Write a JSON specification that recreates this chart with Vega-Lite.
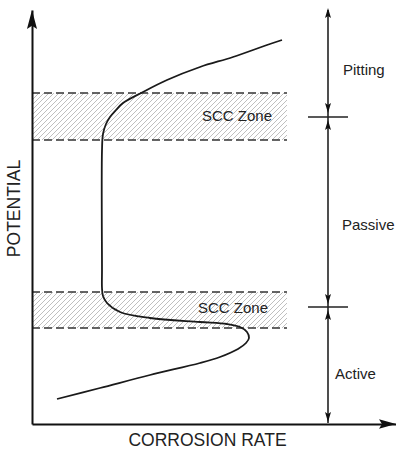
{
  "$schema": "https://vega.github.io/schema/vega-lite/v6.json",
  "width": 364,
  "height": 414,
  "autosize": {"type": "none"},
  "padding": {"left": 32, "top": 10, "right": 0, "bottom": 31},
  "background": "white",
  "config": {"view": {"stroke": null}, "font": "Liberation Sans"},
  "datasets": {
    "hatch": [
      {"x":-45,"y":284,"x2":2,"y2":331},{"x":-40,"y":284,"x2":7,"y2":331},{"x":-35,"y":284,"x2":12,"y2":331},{"x":-30,"y":284,"x2":17,"y2":331},
      {"x":-25,"y":284,"x2":22,"y2":331},{"x":-20,"y":284,"x2":27,"y2":331},{"x":-15,"y":284,"x2":32,"y2":331},{"x":-10,"y":284,"x2":37,"y2":331},
      {"x":-5,"y":284,"x2":42,"y2":331},{"x":0,"y":284,"x2":47,"y2":331},{"x":5,"y":284,"x2":52,"y2":331},{"x":10,"y":284,"x2":57,"y2":331},
      {"x":15,"y":284,"x2":62,"y2":331},{"x":20,"y":284,"x2":67,"y2":331},{"x":25,"y":284,"x2":72,"y2":331},{"x":30,"y":284,"x2":77,"y2":331},
      {"x":35,"y":284,"x2":82,"y2":331},{"x":40,"y":284,"x2":87,"y2":331},{"x":45,"y":284,"x2":92,"y2":331},{"x":50,"y":284,"x2":97,"y2":331},
      {"x":55,"y":284,"x2":102,"y2":331},{"x":60,"y":284,"x2":107,"y2":331},{"x":65,"y":284,"x2":112,"y2":331},{"x":70,"y":284,"x2":117,"y2":331},
      {"x":75,"y":284,"x2":122,"y2":331},{"x":80,"y":284,"x2":127,"y2":331},{"x":85,"y":284,"x2":132,"y2":331},{"x":90,"y":284,"x2":137,"y2":331},
      {"x":95,"y":284,"x2":142,"y2":331},{"x":100,"y":284,"x2":147,"y2":331},{"x":105,"y":284,"x2":152,"y2":331},{"x":110,"y":284,"x2":157,"y2":331},
      {"x":115,"y":284,"x2":162,"y2":331},{"x":120,"y":284,"x2":167,"y2":331},{"x":125,"y":284,"x2":172,"y2":331},{"x":130,"y":284,"x2":177,"y2":331},
      {"x":135,"y":284,"x2":182,"y2":331},{"x":140,"y":284,"x2":187,"y2":331},{"x":145,"y":284,"x2":192,"y2":331},{"x":150,"y":284,"x2":197,"y2":331},
      {"x":155,"y":284,"x2":202,"y2":331},{"x":160,"y":284,"x2":207,"y2":331},{"x":165,"y":284,"x2":212,"y2":331},{"x":170,"y":284,"x2":217,"y2":331},
      {"x":175,"y":284,"x2":222,"y2":331},{"x":180,"y":284,"x2":227,"y2":331},{"x":185,"y":284,"x2":232,"y2":331},{"x":190,"y":284,"x2":237,"y2":331},
      {"x":195,"y":284,"x2":242,"y2":331},{"x":200,"y":284,"x2":247,"y2":331},{"x":205,"y":284,"x2":252,"y2":331},{"x":210,"y":284,"x2":255,"y2":329},
      {"x":215,"y":284,"x2":255,"y2":324},{"x":220,"y":284,"x2":255,"y2":319},{"x":225,"y":284,"x2":255,"y2":314},{"x":230,"y":284,"x2":255,"y2":309},
      {"x":235,"y":284,"x2":255,"y2":304},{"x":240,"y":284,"x2":255,"y2":299},{"x":245,"y":284,"x2":255,"y2":294},{"x":250,"y":284,"x2":255,"y2":289},
      {"x":-35,"y":96,"x2":1,"y2":132},{"x":-30,"y":96,"x2":6,"y2":132},{"x":-25,"y":96,"x2":11,"y2":132},{"x":-20,"y":96,"x2":16,"y2":132},
      {"x":-15,"y":96,"x2":21,"y2":132},{"x":-10,"y":96,"x2":26,"y2":132},{"x":-5,"y":96,"x2":31,"y2":132},{"x":0,"y":96,"x2":36,"y2":132},
      {"x":5,"y":96,"x2":41,"y2":132},{"x":10,"y":96,"x2":46,"y2":132},{"x":15,"y":96,"x2":51,"y2":132},{"x":20,"y":96,"x2":56,"y2":132},
      {"x":25,"y":96,"x2":61,"y2":132},{"x":30,"y":96,"x2":66,"y2":132},{"x":35,"y":96,"x2":71,"y2":132},{"x":40,"y":96,"x2":76,"y2":132},
      {"x":45,"y":96,"x2":81,"y2":132},{"x":50,"y":96,"x2":86,"y2":132},{"x":55,"y":96,"x2":91,"y2":132},{"x":60,"y":96,"x2":96,"y2":132},
      {"x":65,"y":96,"x2":101,"y2":132},{"x":70,"y":96,"x2":106,"y2":132},{"x":75,"y":96,"x2":111,"y2":132},{"x":80,"y":96,"x2":116,"y2":132},
      {"x":85,"y":96,"x2":121,"y2":132},{"x":90,"y":96,"x2":126,"y2":132},{"x":95,"y":96,"x2":131,"y2":132},{"x":100,"y":96,"x2":136,"y2":132},
      {"x":105,"y":96,"x2":141,"y2":132},{"x":110,"y":96,"x2":146,"y2":132},{"x":115,"y":96,"x2":151,"y2":132},{"x":120,"y":96,"x2":156,"y2":132},
      {"x":125,"y":96,"x2":161,"y2":132},{"x":130,"y":96,"x2":166,"y2":132},{"x":135,"y":96,"x2":171,"y2":132},{"x":140,"y":96,"x2":176,"y2":132},
      {"x":145,"y":96,"x2":181,"y2":132},{"x":150,"y":96,"x2":186,"y2":132},{"x":155,"y":96,"x2":191,"y2":132},{"x":160,"y":96,"x2":196,"y2":132},
      {"x":165,"y":96,"x2":201,"y2":132},{"x":170,"y":96,"x2":206,"y2":132},{"x":175,"y":96,"x2":211,"y2":132},{"x":180,"y":96,"x2":216,"y2":132},
      {"x":185,"y":96,"x2":221,"y2":132},{"x":190,"y":96,"x2":226,"y2":132},{"x":195,"y":96,"x2":231,"y2":132},{"x":200,"y":96,"x2":236,"y2":132},
      {"x":205,"y":96,"x2":241,"y2":132},{"x":210,"y":96,"x2":246,"y2":132},{"x":215,"y":96,"x2":251,"y2":132},{"x":220,"y":96,"x2":255,"y2":131},
      {"x":225,"y":96,"x2":255,"y2":126},{"x":230,"y":96,"x2":255,"y2":121},{"x":235,"y":96,"x2":255,"y2":116},{"x":240,"y":96,"x2":255,"y2":111},
      {"x":245,"y":96,"x2":255,"y2":106},{"x":250,"y":96,"x2":255,"y2":101}
    ],
    "bandEdges": [
      {"x":0,"x2":255,"y":331},{"x":0,"x2":255,"y":284},{"x":0,"x2":255,"y":132},{"x":0,"x2":255,"y":96}
    ],
    "curve": [
      {"i":0,"x":25,"y":25},{"i":1,"x":68,"y":36},{"i":2,"x":118,"y":49},{"i":3,"x":168,"y":61},
      {"i":4,"x":188,"y":67},{"i":5,"x":206,"y":75},{"i":6,"x":214,"y":81},{"i":7,"x":217,"y":86},
      {"i":8,"x":215,"y":92},{"i":9,"x":208,"y":97},{"i":10,"x":195,"y":100},{"i":11,"x":168,"y":102},
      {"i":12,"x":118,"y":106},{"i":13,"x":88,"y":112},{"i":14,"x":75,"y":121},{"i":15,"x":71,"y":128},
      {"i":16,"x":70,"y":136},{"i":17,"x":70,"y":154},{"i":18,"x":70,"y":274},{"i":19,"x":71,"y":290},
      {"i":20,"x":74,"y":300},{"i":21,"x":78,"y":307},{"i":22,"x":84,"y":314},{"i":23,"x":91,"y":321},
      {"i":24,"x":111,"y":332},{"i":25,"x":135,"y":344},{"i":26,"x":168,"y":357},{"i":27,"x":201,"y":367},
      {"i":28,"x":235,"y":379},{"i":29,"x":250,"y":384}
    ],
    "segments": [
      {"x":296,"x2":296,"y":1,"y2":414},
      {"x":276,"x2":316,"y":307,"y2":307},
      {"x":276,"x2":316,"y":117,"y2":117}
    ],
    "upTips": [{"x":296,"y":416},{"x":296,"y":304},{"x":296,"y":114}],
    "downTips": [{"x":296,"y":311},{"x":296,"y":120},{"x":296,"y":2}],
    "yArrow": [{"x":0,"y":414}],
    "xArrow": [{"x":364,"y":0}],
    "labels": [
      {"text":"SCC Zone","x":170,"y":308},
      {"text":"SCC Zone","x":166,"y":116},
      {"text":"Pitting","x":311,"y":354},
      {"text":"Passive","x":310,"y":199},
      {"text":"Active","x":303,"y":50}
    ]
  },
  "layer": [
    {
      "data": {"name": "hatch"},
      "mark": {"type": "rule", "clip": true, "stroke": "#aaaaaa", "strokeWidth": 0.75},
      "encoding": {
        "x": {"field": "x", "type": "quantitative", "scale": {"domain": [0, 364], "nice": false, "zero": false},
          "axis": {"title": "CORROSION RATE", "ticks": false, "labels": false, "grid": false,
            "domainColor": "#111", "domainWidth": 2, "zindex": 1,
            "titleFont": "Liberation Sans", "titleFontSize": 17.5, "titleFontWeight": "normal", "titleColor": "#222",
            "titleX": 175, "titleY": 16, "titleAlign": "center", "titleBaseline": "middle"}},
        "y": {"field": "y", "type": "quantitative", "scale": {"domain": [0, 414], "nice": false, "zero": false},
          "axis": {"title": "POTENTIAL", "ticks": false, "labels": false, "grid": false,
            "domainColor": "#111", "domainWidth": 2, "zindex": 1,
            "titleFont": "Liberation Sans", "titleFontSize": 17.5, "titleFontWeight": "normal", "titleColor": "#222",
            "titleAngle": -90, "titleX": -18, "titleY": 198, "titleAlign": "center", "titleBaseline": "middle"}},
        "x2": {"field": "x2"},
        "y2": {"field": "y2"}
      }
    },
    {
      "data": {"name": "bandEdges"},
      "mark": {"type": "rule", "stroke": "#333", "strokeWidth": 1.6, "strokeDash": [8, 4]},
      "encoding": {
        "x": {"field": "x", "type": "quantitative"},
        "x2": {"field": "x2"},
        "y": {"field": "y", "type": "quantitative"}
      }
    },
    {
      "data": {"name": "curve"},
      "mark": {"type": "line", "stroke": "#1a1a1a", "strokeWidth": 1.8, "interpolate": "catmull-rom"},
      "encoding": {
        "x": {"field": "x", "type": "quantitative"},
        "y": {"field": "y", "type": "quantitative"},
        "order": {"field": "i", "type": "quantitative"}
      }
    },
    {
      "data": {"name": "segments"},
      "mark": {"type": "rule", "stroke": "#222", "strokeWidth": 1.6},
      "encoding": {
        "x": {"field": "x", "type": "quantitative"},
        "x2": {"field": "x2"},
        "y": {"field": "y", "type": "quantitative"},
        "y2": {"field": "y2"}
      }
    },
    {
      "data": {"name": "upTips"},
      "mark": {"type": "point", "filled": true, "opacity": 1, "color": "#111", "strokeWidth": 0, "size": 100,
        "shape": "M0,0 L0.6,2 L0,1.6 L-0.6,2 Z"},
      "encoding": {
        "x": {"field": "x", "type": "quantitative"},
        "y": {"field": "y", "type": "quantitative"}
      }
    },
    {
      "data": {"name": "downTips"},
      "mark": {"type": "point", "filled": true, "opacity": 1, "color": "#111", "strokeWidth": 0, "size": 100,
        "shape": "M0,0 L0.6,-2 L0,-1.6 L-0.6,-2 Z"},
      "encoding": {
        "x": {"field": "x", "type": "quantitative"},
        "y": {"field": "y", "type": "quantitative"}
      }
    },
    {
      "data": {"name": "yArrow"},
      "mark": {"type": "point", "filled": true, "opacity": 1, "color": "#111", "strokeWidth": 0, "size": 361,
        "shape": "M0,0 L0.53,2 L0,1.65 L-0.53,2 Z"},
      "encoding": {
        "x": {"field": "x", "type": "quantitative"},
        "y": {"field": "y", "type": "quantitative"}
      }
    },
    {
      "data": {"name": "xArrow"},
      "mark": {"type": "point", "filled": true, "opacity": 1, "color": "#111", "strokeWidth": 0, "size": 289,
        "shape": "M0,0 L-2,-0.56 L-1.65,0 L-2,0.56 Z"},
      "encoding": {
        "x": {"field": "x", "type": "quantitative"},
        "y": {"field": "y", "type": "quantitative"}
      }
    },
    {
      "data": {"name": "labels"},
      "mark": {"type": "text", "align": "left", "baseline": "middle", "font": "Liberation Sans", "fontSize": 15, "color": "#222"},
      "encoding": {
        "x": {"field": "x", "type": "quantitative"},
        "y": {"field": "y", "type": "quantitative"},
        "text": {"field": "text", "type": "nominal"}
      }
    }
  ]
}
